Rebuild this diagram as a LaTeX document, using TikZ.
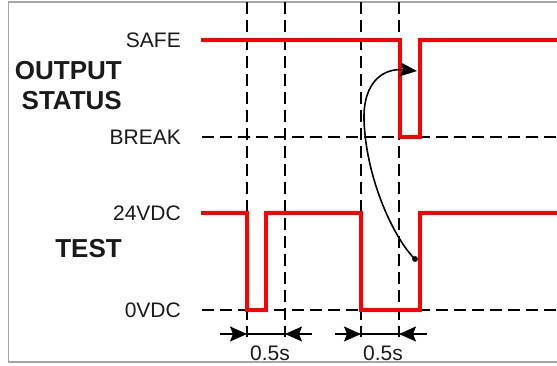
\documentclass[tikz,border=0pt]{standalone}
\usepackage{fontspec}
\setmainfont{Liberation Sans}
\usetikzlibrary{arrows.meta,positioning}
\definecolor{signal}{HTML}{FF0000}
\definecolor{frame}{HTML}{A6A6A6}
\definecolor{ink}{HTML}{1A1A1A}

\begin{document}
\begin{tikzpicture}[x=1pt, y=-1pt,
  level/.style={anchor=east, inner sep=0pt, text=ink, font=\fontsize{21}{24}\selectfont},
  title/.style={anchor=east, align=right, inner sep=0pt, text=ink, font=\fontsize{26}{30}\selectfont\bfseries},
  wave/.style={draw=signal, line width=4.5pt},
  guide/.style={draw=black, line width=2.2pt, dash pattern=on 12pt off 6pt},
  span/.style={draw=black, line width=1.5pt},
  dim/.style={span, -{Stealth[length=17pt, width=15pt, inset=3pt]}},
  cause/.style={draw=black, line width=1.6pt, -{Stealth[length=17pt, width=14pt, inset=3pt]}}
]
\useasboundingbox (0,0) rectangle (557,365);
\draw[frame, line width=1.5pt] (557,2) -- (8.5,2) -- (8.5,362) -- (557,362);

% level labels
\node[level] (safe) at (181,40) {SAFE};
\node[level] (break) at (181,137) {BREAK};
\node[level] (high) at (181,213) {24VDC};
\node[level] (low) at (181,310) {0VDC};
\node[title] (output) at (122,86) {OUTPUT\\STATUS};
\node[title] (test) at (122,249) {TEST};

% dashed reference lines
\coordinate (breakL) at (202,137);
\coordinate (breakR) at (557,137);
\coordinate (lowL) at (202,310);
\coordinate (lowR) at (557,310);
\draw[guide] (breakL) -- (breakR);
\draw[guide] (lowL) -- (lowR);
\foreach \x [count=\i] in {247,285,361,399} {
  \coordinate (top\i) at (\x,2);
  \coordinate (bot\i) at (\x,337);
  \draw[guide] (top\i) -- (bot\i);
}

% signals
\draw[wave] (201,40) -| (400,137) -| (420,40) -- (557,40);
\draw[wave] (201,213) -| (247,310) -| (266,213) -| (361,310) -| (420,213) -- (557,213);

% 0.5s spans
\coordinate (s1) at (247,334);
\coordinate (s2) at (285,334);
\coordinate (s3) at (361,334);
\coordinate (s4) at (399,334);
\coordinate (in1) at (220,334);
\coordinate (in2) at (312,334);
\coordinate (in3) at (335,334);
\coordinate (in4) at (427,334);
\draw[span] (s1) -- (s2);
\draw[span] (s3) -- (s4);
\draw[dim] (in1) -- (s1);
\draw[dim] (in2) -- (s2);
\draw[dim] (in3) -- (s3);
\draw[dim] (in4) -- (s4);
\node[level, anchor=center] (t1) at (270,353) {0.5s};
\node[level, anchor=center] (t2) at (383,353) {0.5s};

% test pulse makes output break
\coordinate (trigger) at (415,259);
\coordinate (hit) at (417,71);
\fill[ink] (trigger) circle (3pt);
\draw[cause] (trigger) .. controls (395,240) and (366,180) .. (364,120)
  .. controls (363,80) and (385,68) .. (hit);
\end{tikzpicture}
\end{document}
